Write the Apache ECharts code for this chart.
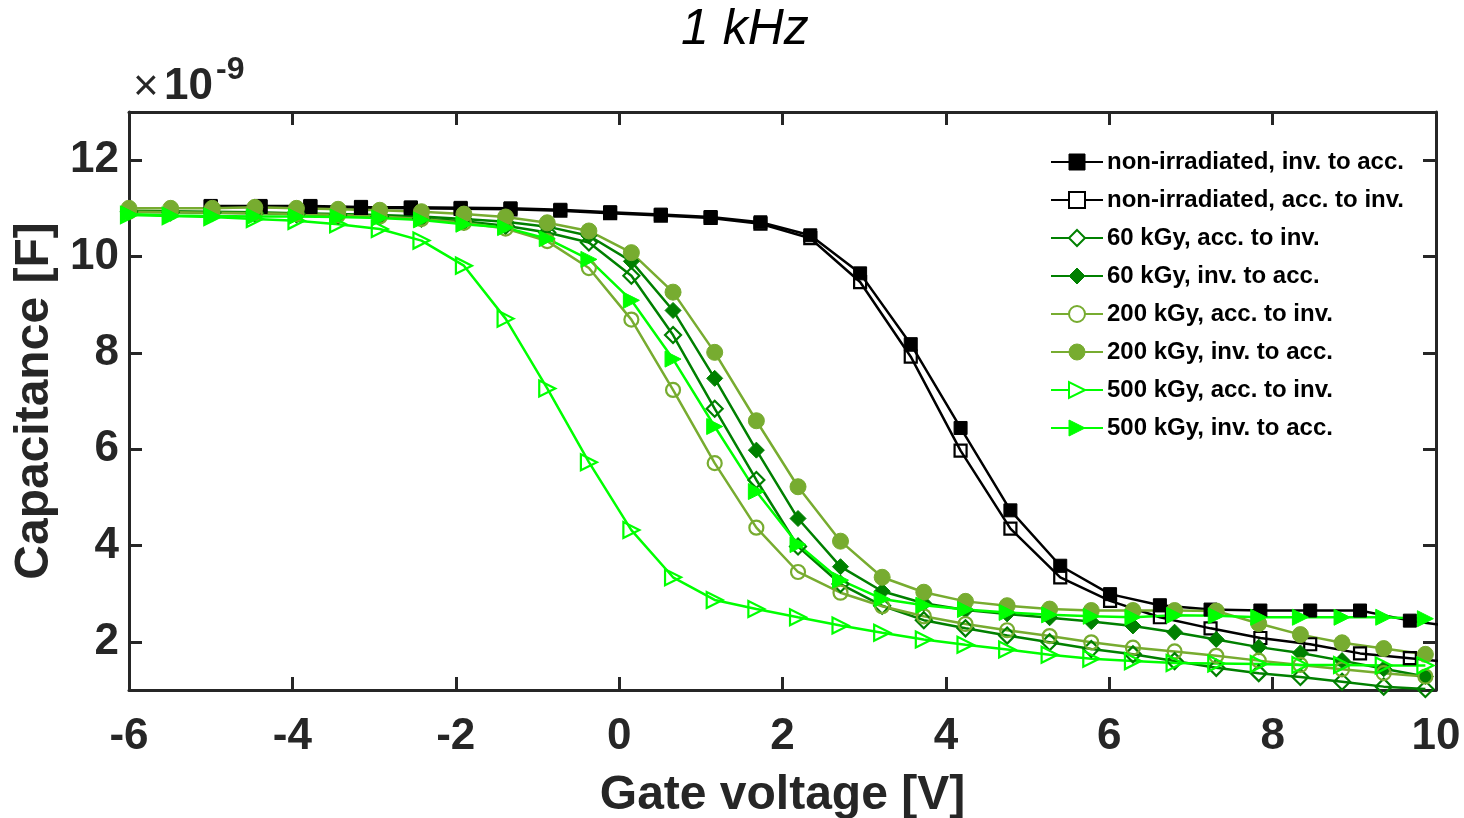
<!DOCTYPE html>
<html>
<head>
<meta charset="utf-8">
<script src="https://cdn.jsdelivr.net/npm/echarts@6/dist/echarts.min.js"></script>
<style>
  html, body { margin: 0; padding: 0; background: #fff; }
  #chart { width: 1464px; height: 818px; }
</style>
</head>
<body>
<div id="chart"></div>
<script>
// Gate voltage sweep points (V)
const xIrradiated = [-6.00, -5.49, -4.98, -4.46, -3.95, -3.44, -2.93, -2.42, -1.90, -1.39, -0.88, -0.37,
  0.15, 0.66, 1.17, 1.68, 2.19, 2.71, 3.22, 3.73, 4.24, 4.75, 5.27, 5.78, 6.29, 6.80, 7.31, 7.83,
  8.34, 8.85, 9.36, 9.87];
const xNonIrradiated = [-5.00, -4.39, -3.78, -3.16, -2.55, -1.94, -1.33, -0.72, -0.11, 0.51, 1.12, 1.73,
  2.34, 2.95, 3.57, 4.18, 4.79, 5.40, 6.01, 6.62, 7.24, 7.85, 8.46, 9.07, 9.68, 10.29];

// Capacitance values in units of 1e-9 F
const nonIrrInvToAcc = [11.05, 11.05, 11.05, 11.03, 11.02, 11.01, 11.00, 10.97, 10.92, 10.87, 10.82, 10.71,
  10.44, 9.65, 8.18, 6.44, 4.73, 3.58, 2.99, 2.76, 2.67, 2.65, 2.65, 2.65, 2.44, 2.30];
const nonIrrAccToInv = [11.03, 11.03, 11.03, 11.01, 11.00, 10.99, 10.98, 10.95, 10.90, 10.85, 10.80, 10.68,
  10.38, 9.47, 7.92, 5.97, 4.35, 3.34, 2.85, 2.51, 2.28, 2.08, 1.95, 1.76, 1.66, 1.56];
const kGy60AccToInv = [10.93, 10.92, 10.91, 10.90, 10.88, 10.86, 10.83, 10.79, 10.73, 10.64, 10.50, 10.29,
  9.60, 8.37, 6.84, 5.36, 3.98, 3.20, 2.75, 2.45, 2.28, 2.13, 1.99, 1.85, 1.74, 1.60, 1.46, 1.35,
  1.27, 1.17, 1.07, 1.02];
const kGy60InvToAcc = [10.95, 10.94, 10.93, 10.92, 10.90, 10.88, 10.86, 10.83, 10.78, 10.72, 10.62, 10.43,
  9.90, 8.88, 7.47, 5.98, 4.56, 3.56, 3.05, 2.80, 2.66, 2.58, 2.50, 2.42, 2.33, 2.20, 2.05, 1.89,
  1.77, 1.61, 1.44, 1.28];
const kGy200AccToInv = [10.93, 10.92, 10.91, 10.90, 10.88, 10.86, 10.83, 10.78, 10.70, 10.58, 10.32, 9.76,
  8.69, 7.23, 5.71, 4.37, 3.45, 3.02, 2.74, 2.53, 2.37, 2.24, 2.12, 1.99, 1.88, 1.80, 1.71, 1.61,
  1.52, 1.43, 1.35, 1.28];
const kGy200InvToAcc = [11.00, 11.00, 11.00, 11.02, 11.00, 10.98, 10.96, 10.93, 10.88, 10.82, 10.70, 10.53,
  10.08, 9.26, 8.01, 6.59, 5.22, 4.09, 3.34, 3.03, 2.84, 2.75, 2.68, 2.65, 2.65, 2.65, 2.64, 2.38,
  2.15, 1.98, 1.86, 1.74];
const kGy500AccToInv = [10.86, 10.84, 10.82, 10.78, 10.74, 10.67, 10.57, 10.33, 9.81, 8.71, 7.26, 5.73,
  4.32, 3.34, 2.87, 2.68, 2.51, 2.34, 2.19, 2.05, 1.94, 1.84, 1.73, 1.65, 1.60, 1.56, 1.55, 1.54,
  1.52, 1.52, 1.51, 1.51];
const kGy500InvToAcc = [10.88, 10.85, 10.84, 10.83, 10.83, 10.82, 10.80, 10.76, 10.67, 10.60, 10.37, 9.94,
  9.09, 7.87, 6.47, 5.12, 4.02, 3.28, 2.89, 2.76, 2.67, 2.61, 2.56, 2.53, 2.51, 2.55, 2.54, 2.51,
  2.51, 2.51, 2.51, 2.48];

const seriesNames = [
  'non-irradiated, inv. to acc.',
  'non-irradiated, acc. to inv.',
  '60 kGy, acc. to inv.',
  '60 kGy, inv. to acc.',
  '200 kGy, acc. to inv.',
  '200 kGy, inv. to acc.',
  '500 kGy, acc. to inv.',
  '500 kGy, inv. to acc.'
];
const yTickValues = [2, 4, 6, 8, 10, 12];

const FONT = '"Liberation Sans", Arial, Helvetica, sans-serif';
const AXIS_COLOR = '#262626';
const C_BLACK = '#000000';
const C_60 = '#008000';
const C_200 = '#77AC30';
const C_500 = '#00FF00';

function pairs(xs, ys) {
  return ys.map((y, i) => [xs[i], y]);
}

function makeSeries(name, xs, ys, color, symbol, size, filled, rotate) {
  return {
    name: name,
    type: 'line',
    data: pairs(xs, ys),
    symbol: symbol,
    symbolSize: size,
    symbolRotate: rotate || 0,
    showAllSymbol: true,
    clip: true,
    lineStyle: { color: color, width: 2.5 },
    itemStyle: filled
      ? { color: color, borderColor: color, borderWidth: 1 }
      : { color: 'rgba(255,255,255,0)', borderColor: color, borderWidth: 2.2 },
    emphasis: { disabled: true },
    animation: false,
    z: 2
  };
}

const series = [
  makeSeries(seriesNames[0], xNonIrradiated, nonIrrInvToAcc, C_BLACK, 'rect', 13, true),
  makeSeries(seriesNames[1], xNonIrradiated, nonIrrAccToInv, C_BLACK, 'rect', 12, false),
  makeSeries(seriesNames[2], xIrradiated, kGy60AccToInv, C_60, 'diamond', 16, false),
  makeSeries(seriesNames[3], xIrradiated, kGy60InvToAcc, C_60, 'diamond', 16, true),
  makeSeries(seriesNames[4], xIrradiated, kGy200AccToInv, C_200, 'circle', 14, false),
  makeSeries(seriesNames[5], xIrradiated, kGy200InvToAcc, C_200, 'circle', 16, true),
  makeSeries(seriesNames[6], xIrradiated, kGy500AccToInv, C_500, 'triangle', 16, false, -90),
  makeSeries(seriesNames[7], xIrradiated, kGy500InvToAcc, C_500, 'triangle', 16, true, -90)
];

const legendColors = [C_BLACK, C_BLACK, C_60, C_60, C_200, C_200, C_500, C_500];
const legendFilled = [true, false, false, true, false, true, false, true];

const axisLineStyle = { show: true, onZero: false, lineStyle: { color: AXIS_COLOR, width: 3 } };
const tickStyle = { show: true, inside: true, length: 13, lineStyle: { color: AXIS_COLOR, width: 3 } };
const tickLabel = { fontFamily: FONT, fontSize: 44, fontWeight: 'bold', color: AXIS_COLOR };
const nameStyle = { fontFamily: FONT, fontSize: 48, fontWeight: 'bold', color: AXIS_COLOR };

const chart = echarts.init(document.getElementById('chart'), null, { renderer: 'canvas' });
chart.setOption({
  animation: false,
  backgroundColor: '#ffffff',
  title: {
    text: '1 kHz',
    left: 676,
    top: 0,
    textStyle: { fontFamily: FONT, fontSize: 50, fontStyle: 'italic', fontWeight: 'normal', color: '#000' }
  },
  grid: { left: 129, right: 28, top: 112, bottom: 128, containLabel: false, outerBoundsMode: 'none' },
  legend: {
    orient: 'vertical',
    left: 1050,
    top: 150,
    padding: 0,
    itemWidth: 52,
    itemHeight: 20,
    itemGap: 14,
    selectedMode: false,
    textStyle: { fontFamily: FONT, fontSize: 24, fontWeight: 'bold', color: '#000', lineHeight: 24, padding: [0, 0, 0, -1] },
    data: seriesNames.map((n, i) => ({
      name: n,
      itemStyle: legendFilled[i]
        ? { color: legendColors[i], borderColor: legendColors[i], borderWidth: 1 }
        : { color: '#ffffff', borderColor: legendColors[i], borderWidth: 2 }
    }))
  },
  graphic: [
    { type: 'text', left: 133, top: 66, style: { text: '×', font: '44px ' + FONT, fill: AXIS_COLOR } },
    { type: 'text', left: 164, top: 65, style: { text: '10', font: 'bold 44px ' + FONT, fill: AXIS_COLOR } },
    { type: 'text', left: 216, top: 54, style: { text: '-9', font: 'bold 32px ' + FONT, fill: AXIS_COLOR } }
  ],
  xAxis: [
    {
      type: 'value', min: -6, max: 10, interval: 2, position: 'bottom',
      axisLine: axisLineStyle, axisTick: tickStyle, splitLine: { show: false },
      axisLabel: Object.assign({ margin: 25 }, tickLabel),
      name: 'Gate voltage [V]', nameLocation: 'middle', nameGap: 82, nameTextStyle: nameStyle
    },
    {
      type: 'value', min: -6, max: 10, interval: 2, position: 'top',
      axisLine: axisLineStyle, axisTick: tickStyle, splitLine: { show: false },
      axisLabel: { show: false }
    }
  ],
  yAxis: [
    {
      type: 'value', min: 1, max: 13, position: 'left',
      axisLine: axisLineStyle,
      axisTick: Object.assign({ customValues: yTickValues }, tickStyle),
      splitLine: { show: false },
      axisLabel: Object.assign({ margin: 10, customValues: yTickValues }, tickLabel),
      name: 'Capacitance [F]', nameLocation: 'middle', nameGap: 64, nameTextStyle: nameStyle
    },
    {
      type: 'value', min: 1, max: 13, position: 'right',
      axisLine: axisLineStyle,
      axisTick: Object.assign({ customValues: yTickValues }, tickStyle),
      splitLine: { show: false },
      axisLabel: { show: false }
    }
  ],
  series: series
});
</script>
</body>
</html>
